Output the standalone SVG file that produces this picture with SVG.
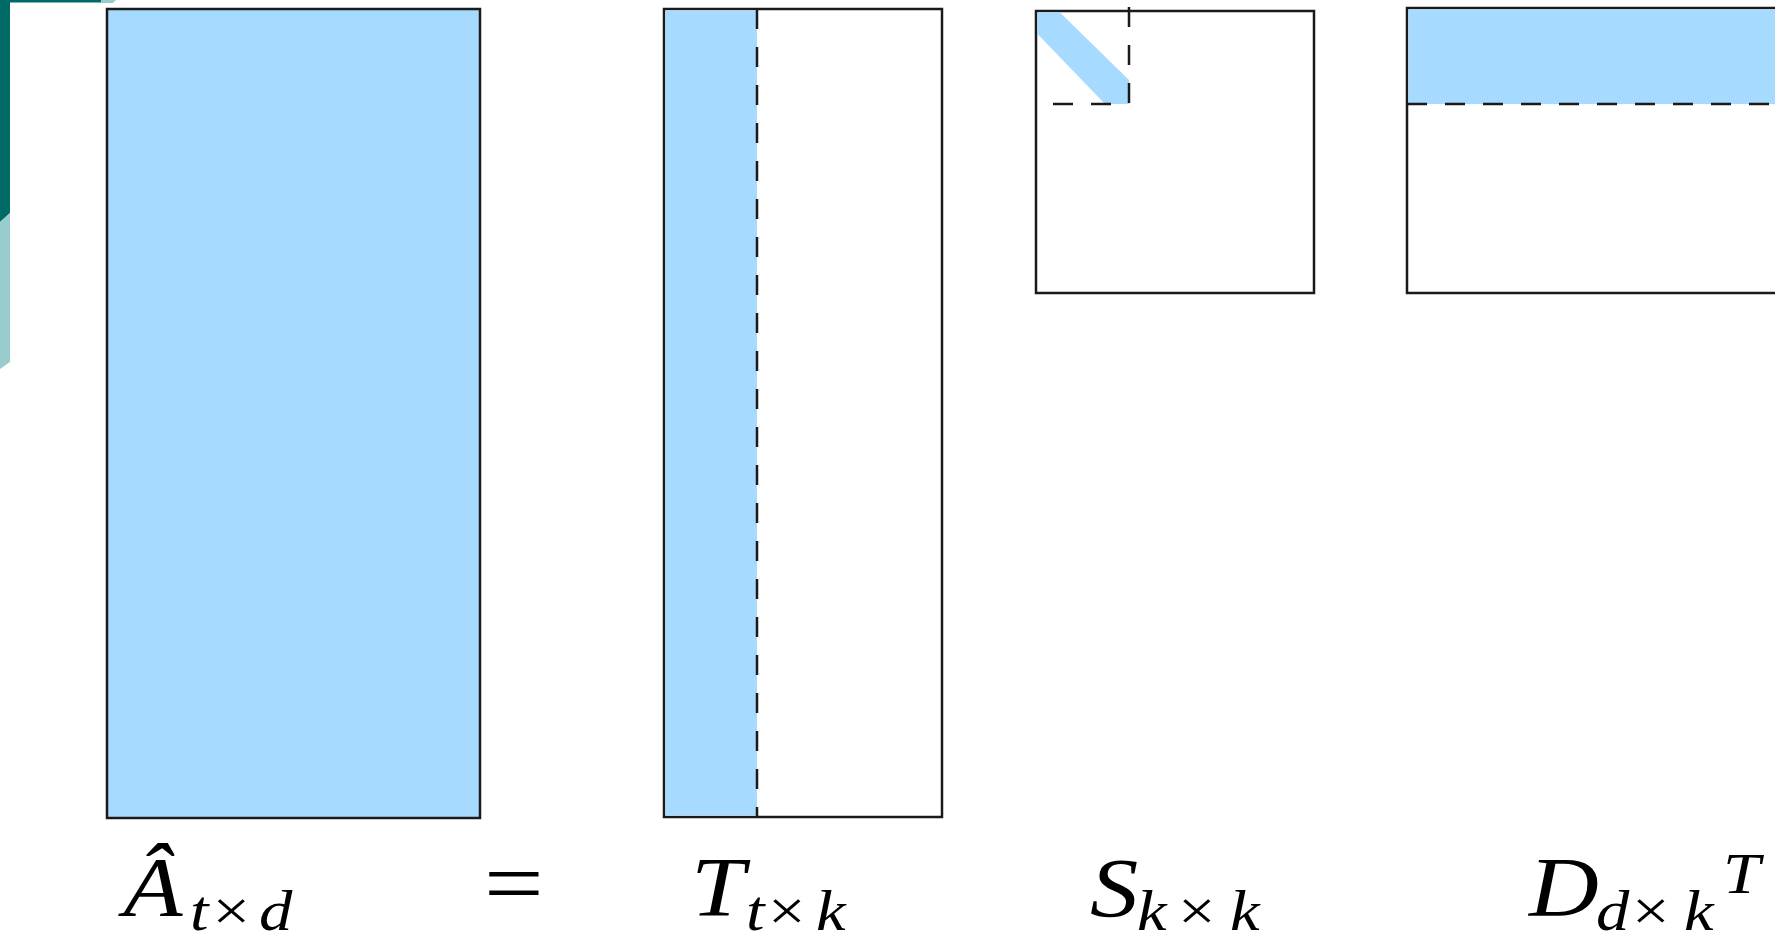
<svg xmlns="http://www.w3.org/2000/svg" width="1775" height="942" viewBox="0 0 1775 942">
<style>
.box{fill:#ffffff;stroke:#1a1a1a;stroke-width:2.5}
.blue{fill:#a6dbff}
.dash{fill:none;stroke:#1a1a1a;stroke-width:2.5;stroke-dasharray:20 18}
.lbl{font-family:"Liberation Serif","Times New Roman",serif;font-style:italic;fill:#000}
.op{font-style:normal}
.main{font-size:84px}
.sub{font-size:58px}
</style>
<rect x="0" y="0" width="1775" height="942" fill="#ffffff"/>
<g id="decor">
<polygon points="0,0 101,0 101,2.5 10,2.5 10,213 0,222" fill="#006b66"/>
<polygon points="101,0 116,0 113,3 101,3" fill="#99cccc"/>
<polygon points="0,222 10,213 10,362 0,369" fill="#99cccc"/>
</g>
<g id="matrix-A">
<rect class="box" x="107" y="9" width="373" height="809" style="fill:#a6dbff"/>
<text class="lbl" transform="scale(1.15,1)"><tspan class="main" x="107.5" y="916">Â</tspan><tspan class="sub" x="165.2" y="930">t</tspan><tspan class="sub op" x="184.8" y="930">×</tspan><tspan class="sub" x="225.2" y="930">d</tspan></text>
</g>
<g id="equals">
<text class="lbl op" x="420.9" y="914" transform="scale(1.15,1)" style="font-size:92px;font-style:normal">=</text>
</g>
<g id="matrix-T">
<rect class="box" x="664" y="9" width="278" height="808"/>
<rect class="blue" x="665.5" y="10.5" width="91.5" height="805"/>
<line class="dash" x1="757" y1="9" x2="757" y2="817"/>
<text class="lbl" transform="scale(1.15,1)"><tspan class="main" x="600.9" y="916">T</tspan><tspan class="sub" x="648.7" y="930">t</tspan><tspan class="sub op" x="667.8" y="930">×</tspan><tspan class="sub" x="709.6" y="930">k</tspan></text>
</g>
<g id="matrix-S">
<rect class="box" x="1036" y="11" width="278" height="282"/>
<polygon class="blue" points="1037.5,12.5 1060,12.5 1129,80 1129,104 1105,104 1037.5,34"/>
<line class="dash" x1="1129" y1="7" x2="1129" y2="105"/>
<line class="dash" x1="1053" y1="104" x2="1129" y2="104"/>
<text class="lbl" transform="scale(1.15,1)"><tspan class="main" x="947.8" y="917">S</tspan><tspan class="sub" x="988.7" y="930">k</tspan><tspan class="sub op" x="1024.3" y="930">×</tspan><tspan class="sub" x="1069.6" y="930">k</tspan></text>
</g>
<g id="matrix-D">
<rect class="box" x="1407" y="8" width="385" height="285"/>
<rect class="blue" x="1408.5" y="9.5" width="380" height="94.5"/>
<line class="dash" x1="1407" y1="104" x2="1792" y2="104"/>
<text class="lbl" transform="scale(1.15,1)"><tspan class="main" x="1329.6" y="916">D</tspan><tspan class="sub" x="1387.8" y="930">d</tspan><tspan class="sub op" x="1419.1" y="930">×</tspan><tspan class="sub" x="1464.3" y="930">k</tspan><tspan class="sub" x="1498.3" y="893">T</tspan></text>
</g>
</svg>
